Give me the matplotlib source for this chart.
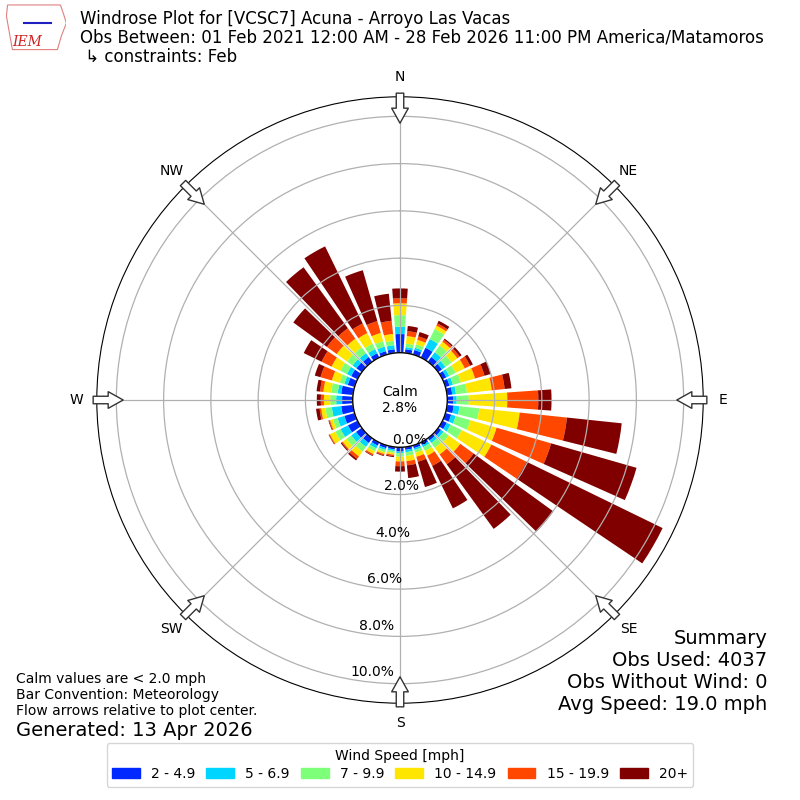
import numpy as np
import matplotlib
matplotlib.use("Agg")
import matplotlib.pyplot as plt
from matplotlib.patches import Circle, Patch, Polygon

# wind direction bins (deg, meteorological "from")
directions = np.arange(0, 360, 10)

# percent of observations per direction for each speed class
spd_2_5 = [0.79, 0.16, 0.20, 0.46, 0.25, 0.20, 0.18, 0.18, 0.22, 0.25, 0.28, 0.25,
           0.20, 0.15, 0.12, 0.12, 0.12, 0.12, 0.18, 0.10, 0.12, 0.15, 0.25, 0.30,
           0.45, 0.45, 0.50, 0.45, 0.50, 0.30, 0.30, 0.28, 0.25, 0.20, 0.15, 0.16]
spd_5_7 = [0.31, 0.09, 0.10, 0.41, 0.25, 0.18, 0.14, 0.15, 0.16, 0.15, 0.25, 0.20,
           0.18, 0.13, 0.13, 0.10, 0.08, 0.10, 0.07, 0.07, 0.08, 0.13, 0.20, 0.25,
           0.35, 0.30, 0.40, 0.25, 0.15, 0.15, 0.20, 0.20, 0.20, 0.20, 0.20, 0.17]
spd_7_10 = [0.49, 0.15, 0.15, 0.47, 0.35, 0.32, 0.30, 0.35, 0.47, 0.51, 0.84, 0.65,
            0.52, 0.27, 0.25, 0.18, 0.12, 0.16, 0.15, 0.08, 0.10, 0.14, 0.25, 0.25,
            0.25, 0.20, 0.27, 0.25, 0.28, 0.20, 0.31, 0.29, 0.31, 0.25, 0.24, 0.19]
spd_10_15 = [0.50, 0.32, 0.20, 0.16, 0.20, 0.30, 0.43, 0.62, 1.05, 1.63, 1.72, 1.15,
             1.40, 0.60, 0.35, 0.22, 0.18, 0.22, 0.20, 0.08, 0.08, 0.13, 0.25, 0.20,
             0.25, 0.13, 0.18, 0.27, 0.33, 0.35, 0.41, 0.54, 0.45, 0.50, 0.36, 0.29]
spd_15_20 = [0.21, 0.21, 0.15, 0.10, 0.10, 0.12, 0.25, 0.42, 0.55, 1.31, 2.01, 2.40,
             1.65, 0.70, 0.51, 0.48, 0.22, 0.18, 0.20, 0.06, 0.06, 0.06, 0.13, 0.05,
             0.04, 0.04, 0.07, 0.13, 0.14, 0.50, 0.47, 0.51, 0.54, 0.45, 0.52, 0.56]
spd_20p = [0.42, 0.22, 0.19, 0.13, 0.06, 0.10, 0.13, 0.28, 0.29, 0.56, 2.33, 3.76,
           6.41, 4.17, 3.38, 2.00, 1.11, 0.54, 0.23, 0.04, 0.03, 0.03, 0.08, 0.05,
           0.02, 0.03, 0.15, 0.17, 0.15, 0.25, 0.84, 1.76, 3.19, 3.63, 2.24, 1.15]

speed_labels = ["2 - 4.9", "5 - 6.9", "7 - 9.9", "10 - 14.9", "15 - 19.9", "20+"]
ring_pcts = [0, 2, 4, 6, 8, 10]
compass = ["N", "NE", "E", "SE", "S", "SW", "W", "NW"]
calm_pct = 2.8
summary = ["Summary", "Obs Used: 4037", "Obs Without Wind: 0", "Avg Speed: 19.0 mph"]

series = [spd_2_5, spd_5_7, spd_7_10, spd_10_15, spd_15_20, spd_20p]
colors = plt.cm.jet(np.linspace(0, 1, 7))[1:]

fig = plt.figure(figsize=(8, 8), dpi=100)
ax = fig.add_axes([0.121, 0.121, 0.758, 0.758], projection="polar")
ax.set_theta_zero_location("N")
ax.set_theta_direction(-1)

calm_off = 2.0
theta = np.deg2rad(directions)
width = np.deg2rad(10) * 0.8
bottom = np.full(len(directions), calm_off)
for vals, c in zip(series, colors):
    vals = np.array(vals)
    ax.bar(theta, vals, width=width, bottom=bottom, color=c, linewidth=0, zorder=1)
    bottom = bottom + vals

rmax = calm_off + (bottom - calm_off).max() * 1.045
ax.set_ylim(0, rmax)
ax.set_rgrids([calm_off + p for p in ring_pcts], labels=[""] * len(ring_pcts))
ax.set_thetagrids(np.arange(0, 360, 45), labels=compass, fontsize=10)
ax.tick_params(axis="x", pad=4)
ax.grid(True, color="#b0b0b0", linewidth=0.9)
ax.set_axisbelow(False)

# calm circle in the middle
ax.add_patch(Circle((0.5, 0.5), 0.5 * calm_off / rmax, transform=ax.transAxes,
                    fc="white", ec="black", lw=1.0, zorder=3))
ax.text(0, 0, "Calm\n%.1f%%" % calm_pct, ha="center", va="center", fontsize=10, zorder=4)

# ring labels
for p in ring_pcts:
    ax.text(np.deg2rad(190), calm_off + p, "%.1f%%" % p, ha="left", va="bottom",
            fontsize=10, zorder=5)

# flow arrows pointing to the center
for a in np.arange(0, 360, 45):
    ax.annotate("", xy=(np.deg2rad(a), rmax * 0.913), xytext=(np.deg2rad(a), rmax * 1.012),
                arrowprops=dict(arrowstyle="simple,head_length=0.9,head_width=1.0,tail_width=0.45",
                                fc="white", ec="#333333", lw=1, shrinkA=0, shrinkB=0,
                                mutation_scale=12),
                annotation_clip=False, zorder=6)

# header
fig.text(0.1, 0.988,
         "Windrose Plot for [VCSC7] Acuna - Arroyo Las Vacas\n"
         "Obs Between: 01 Feb 2021 12:00 AM - 28 Feb 2026 11:00 PM America/Matamoros\n"
         " \u21b3 constraints: Feb", va="top", ha="left", fontsize=12, linespacing=1.08)

# crude IEM logo
lax = fig.add_axes([0.008, 0.935, 0.075, 0.06])
lax.axis("off")
lax.set_xlim(0, 1)
lax.set_ylim(0, 1)
lax.add_patch(Polygon([[0.02, 0.98], [0.9, 0.98], [0.95, 0.8], [1.0, 0.6], [0.92, 0.35],
                       [0.85, 0.05], [0.1, 0.05], [0.05, 0.4], [0.0, 0.75]],
                      closed=True, fill=False, ec="#e08080", lw=0.8))
lax.plot([0.3, 0.75], [0.6, 0.6], color="#2020c0", lw=1.5)
lax.text(0.35, 0.2, "IEM", color="#d02020", fontsize=10, family="serif", style="italic",
         ha="center", va="center")

# notes
fig.text(0.02, 0.16, "Calm values are < 2.0 mph\nBar Convention: Meteorology\n"
         "Flow arrows relative to plot center.", va="top", ha="left", fontsize=10)
fig.text(0.02, 1 - 730 / 800, "Generated: 13 Apr 2026", va="center", ha="left", fontsize=14)

# summary block, one text per line
for i, line in enumerate(summary):
    fig.text(0.959, 1 - (639 + 22 * i) / 800, line, va="center", ha="right", fontsize=14)

handles = [Patch(color=c) for c in colors]
fig.legend(handles, speed_labels, loc="lower center", bbox_to_anchor=(0.5, 0.008), ncol=6,
           title="Wind Speed [mph]", fontsize=10, title_fontsize=10, columnspacing=0.8,
           borderpad=0.4, labelspacing=0.3)

fig.savefig("out.png", dpi=100)
